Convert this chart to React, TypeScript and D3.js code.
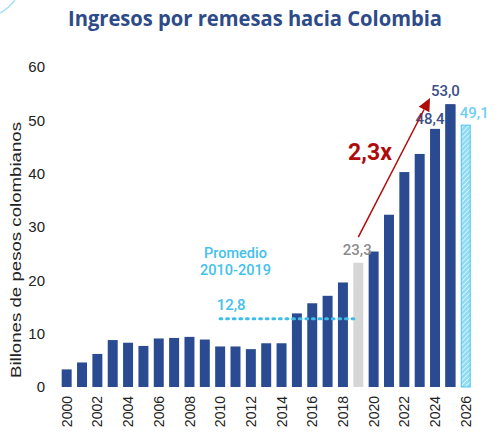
import React from 'react';
import * as d3 from 'd3';

const years = ['2000', '2001', '2002', '2003', '2004', '2005', '2006', '2007', '2008', '2009', '2010', '2011', '2012', '2013', '2014', '2015', '2016', '2017', '2018', '2019', '2020', '2021', '2022', '2023', '2024', '2025', '2026'];
const remesas = [3.3, 4.6, 6.2, 8.8, 8.3, 7.7, 9.1, 9.2, 9.4, 8.9, 7.6, 7.6, 7.1, 8.2, 8.2, 13.8, 15.7, 17.1, 19.6, 23.3, 25.4, 32.3, 40.3, 43.7, 48.4, 53.0, 49.1];
// 'base' | 'ref' (2019, gris) | 'proj' (2026, proyección)
const kinds = ['base', 'base', 'base', 'base', 'base', 'base', 'base', 'base', 'base', 'base', 'base', 'base', 'base', 'base', 'base', 'base', 'base', 'base', 'base', 'ref', 'base', 'base', 'base', 'base', 'base', 'base', 'proj'];
const yTicks = [0, 10, 20, 30, 40, 50, 60];
const xTickYears = ['2000', '2002', '2004', '2006', '2008', '2010', '2012', '2014', '2016', '2018', '2020', '2022', '2024', '2026'];

const promedio = 12.8;
const promedioDesde = '2010';
const promedioHasta = '2019';
const crecimiento = '2,3x';

const W = 499;
const H = 435;

const fmt = (v: number) => v.toFixed(1).replace('.', ',');

export default function App() {
  const x = d3.scaleBand<string>()
    .domain(years)
    .range([59, 473.4])
    .paddingInner(0.35)
    .paddingOuter(0.175);

  const y = d3.scaleLinear().domain([0, 60]).range([387, 67]);

  const cx = (yr: string) => (x(yr) as number) + x.bandwidth() / 2;
  const val = (yr: string) => remesas[years.indexOf(yr)];

  const darkBlue = '#2a4b91';
  const lightBlue = '#45c1ea';
  const red = '#b00b0b';

  // flecha 2019 -> 2025
  const arrowStart: [number, number] = [cx('2019'), y(28.1)];
  const arrowEnd: [number, number] = [cx('2024') - 5, y(54.2)];
  const ang = Math.atan2(arrowEnd[1] - arrowStart[1], arrowEnd[0] - arrowStart[0]);
  const headLen = 13;
  const headW = 6;
  const back: [number, number] = [arrowEnd[0] - headLen * Math.cos(ang), arrowEnd[1] - headLen * Math.sin(ang)];
  const head = [
    arrowEnd,
    [back[0] + headW * Math.sin(ang), back[1] - headW * Math.cos(ang)],
    [back[0] - headW * Math.sin(ang), back[1] + headW * Math.cos(ang)],
  ] as [number, number][];

  const labelFont = 'Roboto, "Liberation Sans", sans-serif';
  const axisFont = '"Liberation Sans", Arial, sans-serif';

  return (
    <svg width={W} height={H} style={{ position: 'absolute', left: 0, top: 0, background: '#fff' }}>
      <defs>
        <pattern id="hatch" width="3.5" height="3.5" patternUnits="userSpaceOnUse" patternTransform="rotate(45)">
          <rect width="3.5" height="3.5" fill="#8fdcf4" />
          <line x1="0" y1="0" x2="0" y2="3.5" stroke="#ffffff" strokeWidth="1.2" />
        </pattern>
      </defs>

      {/* arco decorativo */}
      <path d="M0,13 Q9,8 15,0" fill="none" stroke="#a9dff2" strokeWidth="1.5" />

      <text x={255} y={26} textAnchor="middle" fontFamily='"Open Sans", Lato, sans-serif' fontWeight={700}
        fontSize={21} fill="#2d4a89" textLength={374} lengthAdjust="spacingAndGlyphs">
        Ingresos por remesas hacia Colombia
      </text>

      {/* eje y */}
      {yTicks.map(t => (
        <text key={t} x={45} y={y(t)} dy="0.36em" textAnchor="end" fontFamily={axisFont} fontSize={15} fill="#222">
          {t}
        </text>
      ))}
      <text transform={`translate(21,${250}) rotate(-90)`} textAnchor="middle" fontFamily={axisFont} fontSize={14}
        fill="#222" textLength={256} lengthAdjust="spacingAndGlyphs">
        Billones de pesos colombianos
      </text>

      {/* barras */}
      {years.map((yr, i) => {
        const k = kinds[i];
        const top = y(remesas[i]);
        if (k === 'proj') {
          return (
            <rect key={yr} x={(x(yr) as number) + 0.5} y={top} width={x.bandwidth() - 1} height={y(0) - top}
              fill="url(#hatch)" stroke="#4cc4ec" strokeWidth={1} />
          );
        }
        return (
          <rect key={yr} x={x(yr)} y={top} width={x.bandwidth()} height={y(0) - top}
            fill={k === 'ref' ? '#d6d6d6' : darkBlue} />
        );
      })}

      {/* eje x */}
      {xTickYears.map(yr => (
        <text key={yr} transform={`translate(${cx(yr)},${396}) rotate(-90)`} dy="0.36em" textAnchor="end"
          fontFamily={axisFont} fontSize={14} fill="#222">
          {yr}
        </text>
      ))}

      {/* promedio 2010-2019 */}
      <line x1={cx(promedioDesde)} x2={cx(promedioHasta)} y1={y(promedio)} y2={y(promedio)}
        stroke="#3fbde8" strokeWidth={3.2} strokeDasharray="1.6 5" strokeLinecap="round" />
      <text x={cx(promedioDesde) + 11} y={y(promedio) - 9} textAnchor="middle" fontFamily={labelFont}
        fontWeight={500} fontSize={15} fill={lightBlue}>
        {fmt(promedio)}
      </text>
      <text x={cx('2011')} y={258} textAnchor="middle" fontFamily={labelFont} fontWeight={500} fontSize={14.5} fill={lightBlue}>
        Promedio
      </text>
      <text x={cx('2011')} y={275} textAnchor="middle" fontFamily={labelFont} fontWeight={500} fontSize={14.5} fill={lightBlue}>
        {`${promedioDesde}-${promedioHasta}`}
      </text>

      {/* etiquetas de valor */}
      <text x={cx('2019') - 1} y={y(val('2019')) - 8} textAnchor="middle" fontFamily={labelFont} fontWeight={500}
        fontSize={15} fill="#8c8c8c">
        {fmt(val('2019'))}
      </text>
      <text x={cx('2024') - 5} y={y(val('2024')) - 5} textAnchor="middle" fontFamily={labelFont} fontWeight={500}
        fontSize={15} fill="#3c4f87">
        {fmt(val('2024'))}
      </text>
      <rect x={x('2025')} y={y(val('2025'))} width={x.bandwidth()} height={y(0) - y(val('2025'))} fill={darkBlue} />
      <text x={cx('2025') - 5} y={y(val('2025')) - 8} textAnchor="middle" fontFamily={labelFont} fontWeight={500}
        fontSize={15} fill="#3c4f87">
        {fmt(val('2025'))}
      </text>
      <text x={(x('2026') as number) - 1} y={y(val('2026')) - 7} textAnchor="start" fontFamily={labelFont} fontWeight={500}
        fontSize={15} fill="#6fd0f0">
        {fmt(val('2026'))}
      </text>

      {/* flecha de crecimiento */}
      <line x1={arrowStart[0]} y1={arrowStart[1]} x2={back[0]} y2={back[1]} stroke={red} strokeWidth={1.5} />
      <path d={d3.line()(head) + 'Z'} fill={red} />
      <text x={370} y={160} textAnchor="middle" fontFamily={labelFont} fontWeight={700} fontSize={23} fill={red}>
        {crecimiento}
      </text>
    </svg>
  );
}
